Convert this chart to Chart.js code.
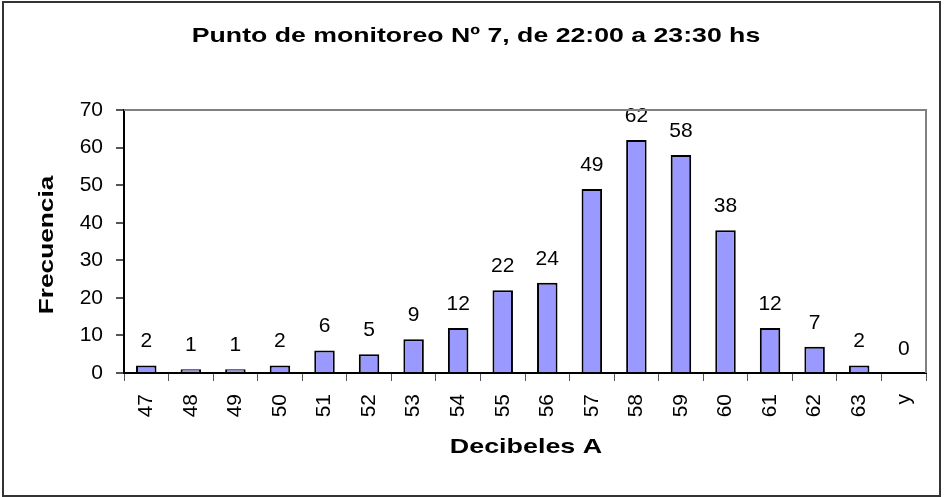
<!DOCTYPE html>
<html lang="en">
<head>
  <meta charset="UTF-8" />
  <title>Punto de monitoreo Nº 7</title>
  <script src="https://cdn.jsdelivr.net/npm/chart.js"></script>
  <style>
    html, body { margin: 0; padding: 0; background: #fff; }
    #wrap { position: relative; width: 945px; height: 497px; }
  </style>
</head>
<body>
<div id="wrap"><canvas id="chart" width="945" height="497"></canvas></div>
<script>
  const categories = ['47', '48', '49', '50', '51', '52', '53', '54', '55', '56', '57', '58', '59', '60', '61', '62', '63', 'y'];
  const frecuencia = [2, 1, 1, 2, 6, 5, 9, 12, 22, 24, 49, 62, 58, 38, 12, 7, 2, 0];
  const yTicks = [0, 10, 20, 30, 40, 50, 60, 70];

  const chartTitle = 'Punto de monitoreo Nº 7, de 22:00 a 23:30 hs';
  const xTitle = 'Decibeles A';
  const yTitle = 'Frecuencia';

  const FONT = "'Liberation Sans', Arial, sans-serif";

  // bold text in the original is drawn wide, so stretch it along its direction
  function wideText(ctx, text, x, y, angle, sx) {
    ctx.save();
    ctx.translate(x, y);
    ctx.rotate(angle);
    ctx.scale(sx, 1);
    ctx.fillText(text, 0, 0);
    ctx.restore();
  }

  const decor = {
    id: 'decor',
    afterDatasetsDraw(chart) {
      const { ctx, chartArea: a } = chart;
      const meta = chart.getDatasetMeta(0);
      ctx.save();
      ctx.font = '21px ' + FONT;
      ctx.fillStyle = '#000';
      ctx.textAlign = 'center';
      ctx.textBaseline = 'alphabetic';
      meta.data.forEach((bar, i) => {
        ctx.fillText(String(frecuencia[i]), bar.x, bar.y - 18);
      });

      ctx.font = 'bold 21px ' + FONT;
      wideText(ctx, chartTitle, 476, 42, 0, 1.27);
      wideText(ctx, xTitle, 526, 453, 0, 1.28);
      wideText(ctx, yTitle, 53, 245, -Math.PI / 2, 1.25);

      // top and right edge of the plot area
      ctx.strokeStyle = '#808080';
      ctx.lineWidth = 2;
      ctx.beginPath();
      ctx.moveTo(a.left, a.top);
      ctx.lineTo(a.right, a.top);
      ctx.lineTo(a.right, a.bottom);
      ctx.stroke();
      // outer frame
      ctx.strokeStyle = '#333';
      ctx.lineWidth = 2;
      ctx.strokeRect(3, 2, 937, 494);
      ctx.restore();
    }
  };

  new Chart(document.getElementById('chart'), {
    type: 'bar',
    data: {
      labels: categories,
      datasets: [{
        data: frecuencia,
        backgroundColor: '#9999FF',
        borderColor: '#000',
        borderWidth: 2,
        categoryPercentage: 1,
        barPercentage: 0.46
      }]
    },
    options: {
      responsive: false,
      animation: false,
      layout: { padding: { top: 110, right: 19, left: 0, bottom: 0 } },
      plugins: {
        legend: { display: false },
        tooltip: { enabled: false },
        title: { display: false }
      },
      scales: {
        x: {
          grid: {
            offset: true,
            drawOnChartArea: false,
            drawTicks: true,
            tickLength: 8,
            color: '#555',
            lineWidth: 1
          },
          border: { color: '#000', width: 2 },
          ticks: {
            color: '#000',
            font: { family: FONT, size: 21 },
            minRotation: 90,
            maxRotation: 90,
            padding: 13
          },
          afterFit(scale) { scale.height = 124; }
        },
        y: {
          min: 0,
          max: 70,
          afterBuildTicks(scale) { scale.ticks = yTicks.map(v => ({ value: v })); },
          grid: {
            drawOnChartArea: false,
            drawTicks: true,
            tickLength: 8,
            color: '#555',
            lineWidth: 2
          },
          border: { color: '#000', width: 2 },
          ticks: {
            color: '#000',
            font: { family: FONT, size: 21 },
            padding: 13
          },
          afterFit(scale) { scale.width = 124; }
        }
      }
    },
    plugins: [decor]
  });
</script>
</body>
</html>
